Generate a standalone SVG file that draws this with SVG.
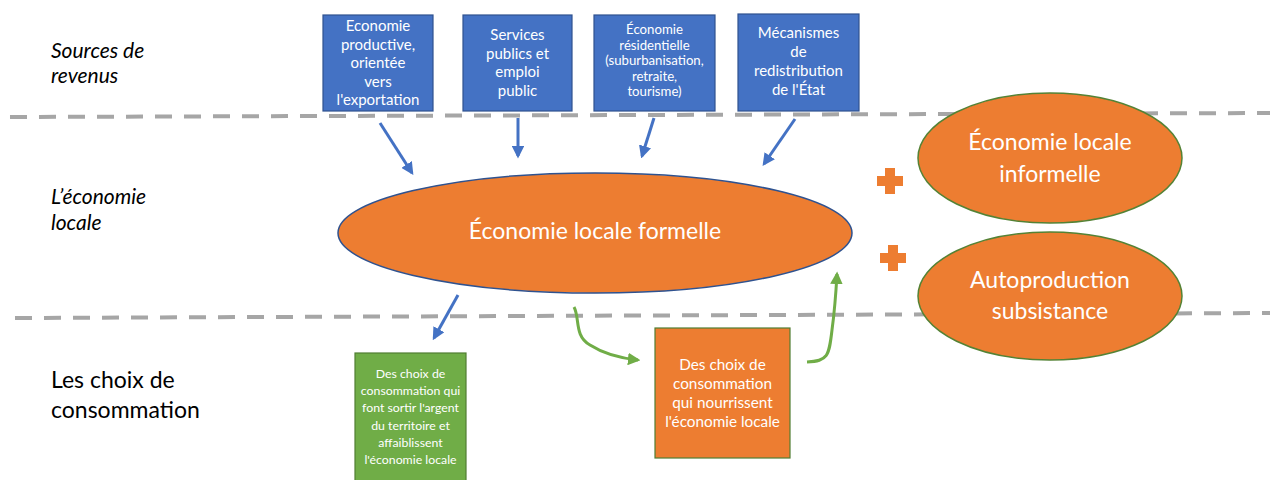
<svg xmlns="http://www.w3.org/2000/svg" width="1270" height="480" viewBox="0 0 1270 480">
<defs>
<style>
.lbl{font-family:Lato,"Liberation Sans",sans-serif;fill:#000}
.it{font-style:italic;font-size:21px}
.sec{font-size:23px}
.wt{font-family:Lato,"Liberation Sans",sans-serif;fill:#fff;text-anchor:middle}
.bbox{fill:#4472c4;stroke:#2f528f;stroke-width:1.2}
.orng{fill:#ed7d31}
.dash{stroke:#a6a6a6;stroke-width:4;stroke-dasharray:17 12;fill:none}
.ba{stroke:#4472c4;stroke-width:3;fill:none;marker-end:url(#bh)}
.ga{stroke:#70ad47;stroke-width:3;fill:none;marker-end:url(#gh)}
</style>
<marker id="bh" viewBox="0 0 10 10" refX="8" refY="5" markerWidth="4.2" markerHeight="4.2" orient="auto" markerUnits="strokeWidth">
<path d="M0,0 L10,5 L0,10 z" fill="#4472c4"/>
</marker>
<marker id="gh" viewBox="0 0 10 10" refX="8" refY="5" markerWidth="4.2" markerHeight="4.2" orient="auto" markerUnits="strokeWidth">
<path d="M0,0 L10,5 L0,10 z" fill="#70ad47"/>
</marker>
</defs>
<rect width="1270" height="480" fill="#fff"/>

<g id="separators">
<line class="dash" x1="10" y1="117" x2="1270" y2="113"/>
<line class="dash" x1="15" y1="318" x2="1270" y2="313"/>
</g>

<g id="row-labels">
<text class="lbl it" x="51" y="58">Sources de</text>
<text class="lbl it" x="51" y="83">revenus</text>
<text class="lbl it" x="51" y="204">L’économie</text>
<text class="lbl it" x="51" y="230">locale</text>
<text class="lbl sec" x="51" y="388">Les choix de</text>
<text class="lbl sec" x="51" y="418">consommation</text>
</g>

<g id="connectors">
<line class="ba" x1="380" y1="123" x2="412" y2="173"/>
<line class="ba" x1="518" y1="118" x2="518" y2="156"/>
<line class="ba" x1="654" y1="118" x2="642" y2="156"/>
<line class="ba" x1="795" y1="119" x2="764" y2="164"/>
<line class="ba" x1="458" y1="295" x2="434" y2="338"/>
<path class="ga" d="M574,307 C580,318 574,336 590,345 C604,354 618,358 638,360"/>
<path class="ga" d="M807,362 C828,361 829,356 832,330 C835,308 836,292 837,274"/>
</g>

<g id="src-export">
<rect class="bbox" x="323" y="15" width="110" height="96"/>
<text class="wt" font-size="15"><tspan x="378" y="31">Economie</tspan><tspan x="378" y="49.5">productive,</tspan><tspan x="378" y="68">orientée</tspan><tspan x="378" y="86.5">vers</tspan><tspan x="378" y="105">l'exportation</tspan></text>
</g>

<g id="src-public">
<rect class="bbox" x="463" y="15" width="109" height="96"/>
<text class="wt" font-size="15"><tspan x="517.5" y="40">Services</tspan><tspan x="517.5" y="58.5">publics et</tspan><tspan x="517.5" y="77">emploi</tspan><tspan x="517.5" y="95.5">public</tspan></text>
</g>

<g id="src-residentielle">
<rect class="bbox" x="594" y="15" width="121" height="96"/>
<text class="wt" font-size="13.2"><tspan x="654.5" y="34">Économie</tspan><tspan x="654.5" y="49.5">résidentielle</tspan><tspan x="654.5" y="65">(suburbanisation,</tspan><tspan x="654.5" y="80.5">retraite,</tspan><tspan x="654.5" y="96">tourisme)</tspan></text>
</g>

<g id="src-etat">
<rect class="bbox" x="738" y="14" width="121" height="97"/>
<text class="wt" font-size="15"><tspan x="798.5" y="38">Mécanismes</tspan><tspan x="798.5" y="57">de</tspan><tspan x="798.5" y="76">redistribution</tspan><tspan x="798.5" y="95">de l'État</tspan></text>
</g>

<g id="eco-formelle">
<ellipse class="orng" cx="595" cy="233" rx="257" ry="60" stroke="#2f528f" stroke-width="1.5"/>
<text class="wt" font-size="23" x="595" y="239">Économie locale formelle</text>
</g>

<g id="plus-signs">
<path class="orng" d="M885,168 h10 v8 h8 v10 h-8 v8 h-10 v-8 h-8 v-10 h8 z"/>
<path class="orng" d="M888,245 h10 v8 h8 v10 h-8 v8 h-10 v-8 h-8 v-10 h8 z"/>
</g>

<g id="eco-informelle">
<ellipse class="orng" cx="1050" cy="158" rx="132" ry="65" stroke="#548235" stroke-width="1.5"/>
<text class="wt" font-size="23"><tspan x="1050" y="150">Économie locale</tspan><tspan x="1050" y="182">informelle</tspan></text>
</g>

<g id="autoproduction">
<ellipse class="orng" cx="1050" cy="296" rx="132" ry="64" stroke="#548235" stroke-width="1.5"/>
<text class="wt" font-size="23"><tspan x="1050" y="288">Autoproduction</tspan><tspan x="1050" y="319">subsistance</tspan></text>
</g>

<g id="choix-sortir">
<rect x="355" y="353" width="111" height="130" fill="#70ad47" stroke="#507e32" stroke-width="1.2"/>
<text class="wt" font-size="12.3"><tspan x="410.5" y="378">Des choix de</tspan><tspan x="410.5" y="395.2">consommation qui</tspan><tspan x="410.5" y="412.4">font sortir l'argent</tspan><tspan x="410.5" y="429.6">du territoire et</tspan><tspan x="410.5" y="446.8">affaiblissent</tspan><tspan x="410.5" y="464">l'économie locale</tspan></text>
</g>

<g id="choix-nourrir">
<rect x="655" y="328" width="135" height="130" class="orng" stroke="#507e32" stroke-width="1.2"/>
<text class="wt" font-size="15.3"><tspan x="722.5" y="370">Des choix de</tspan><tspan x="722.5" y="389">consommation</tspan><tspan x="722.5" y="408">qui nourrissent</tspan><tspan x="722.5" y="427">l'économie locale</tspan></text>
</g>
</svg>
